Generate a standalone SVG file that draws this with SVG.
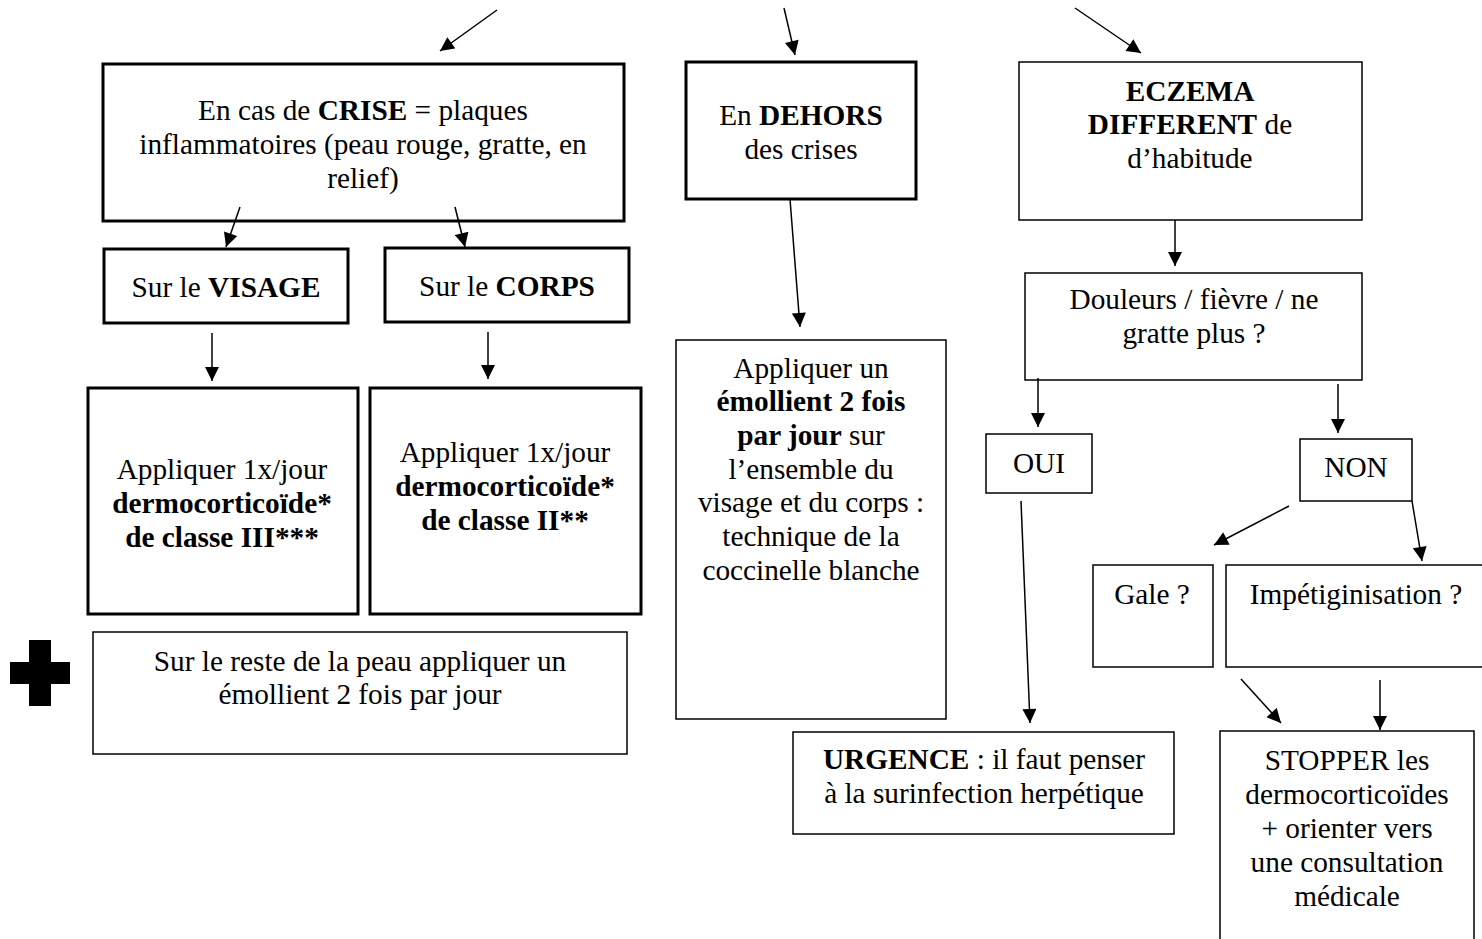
<svg xmlns="http://www.w3.org/2000/svg" width="1482" height="939" viewBox="0 0 1482 939">
<style>
text{font-family:"Liberation Serif","Times New Roman",serif;font-size:29.3px;fill:#000;text-anchor:middle}
.b{font-weight:bold}
.thick{fill:#fff;stroke:#000;stroke-width:3}
.thin{fill:#fff;stroke:#000;stroke-width:1.5}
.c line{stroke:#000;stroke-width:1.5;marker-end:url(#ah)}
</style>
<defs>
<marker id="ah" viewBox="0 0 10 10" refX="10" refY="5" markerWidth="15" markerHeight="14" markerUnits="userSpaceOnUse" orient="auto">
<path d="M0,0 L10,5 L0,10 z" fill="#000"/>
</marker>
</defs>
<rect width="1482" height="939" fill="#fff"/>
<g id="crise"><rect class="thick" x="103" y="64" width="521" height="157"/>
<text x="363" y="120">En cas de <tspan class="b">CRISE</tspan> = plaques</text>
<text x="363" y="154">inflammatoires (peau rouge, gratte, en</text>
<text x="363" y="188">relief)</text></g>
<g id="dehors"><rect class="thick" x="686" y="62" width="230" height="137"/>
<text x="801" y="125">En <tspan class="b">DEHORS</tspan></text>
<text x="801" y="159">des crises</text></g>
<g id="eczema"><rect class="thin" x="1019" y="62" width="343" height="158"/>
<text x="1190" y="101" class="b">ECZEMA</text>
<text x="1190" y="134"><tspan class="b">DIFFERENT</tspan> de</text>
<text x="1190" y="168">d’habitude</text></g>
<g id="visage"><rect class="thick" x="104" y="249" width="244" height="74"/>
<text x="226" y="297">Sur le <tspan class="b">VISAGE</tspan></text></g>
<g id="corps"><rect class="thick" x="385" y="248" width="244" height="74"/>
<text x="507" y="296">Sur le <tspan class="b">CORPS</tspan></text></g>
<g id="classe3"><rect class="thick" x="88" y="388" width="270" height="226"/>
<text x="222" y="479">Appliquer 1x/jour</text>
<text x="222" y="513" class="b">dermocorticoïde*</text>
<text x="222" y="547" class="b">de classe III***</text></g>
<g id="classe2"><rect class="thick" x="370" y="388" width="271" height="226"/>
<text x="505" y="462">Appliquer 1x/jour</text>
<text x="505" y="496" class="b">dermocorticoïde*</text>
<text x="505" y="530" class="b">de classe II**</text></g>
<g id="plus"><path d="M29,640 H51 V662 H70 V684 H51 V706 H29 V684 H10 V662 H29 Z" fill="#000"/></g>
<g id="reste"><rect class="thin" x="93" y="632" width="534" height="122"/>
<text x="360" y="671">Sur le reste de la peau appliquer un</text>
<text x="360" y="704">émollient 2 fois par jour</text></g>
<g id="emollient"><rect class="thin" x="676" y="340" width="270" height="379"/>
<text x="811" y="378">Appliquer un</text>
<text x="811" y="411" class="b">émollient 2 fois</text>
<text x="811" y="445"><tspan class="b">par jour</tspan> sur</text>
<text x="811" y="479">l’ensemble du</text>
<text x="811" y="512">visage et du corps :</text>
<text x="811" y="546">technique de la</text>
<text x="811" y="580">coccinelle blanche</text></g>
<g id="douleurs"><rect class="thin" x="1025" y="273" width="337" height="107"/>
<text x="1194" y="309">Douleurs / fièvre / ne</text>
<text x="1194" y="343">gratte plus ?</text></g>
<g id="oui"><rect class="thin" x="986" y="434" width="106" height="59"/>
<text x="1039" y="473">OUI</text></g>
<g id="non"><rect class="thin" x="1300" y="439" width="112" height="62"/>
<text x="1356" y="477">NON</text></g>
<g id="gale"><rect class="thin" x="1093" y="565" width="120" height="102"/>
<text x="1152" y="604">Gale ?</text></g>
<g id="impetigo"><rect class="thin" x="1226" y="565" width="260" height="102"/>
<text x="1356" y="604">Impétiginisation ?</text></g>
<g id="urgence"><rect class="thin" x="793" y="732" width="381" height="102"/>
<text x="984" y="769"><tspan class="b">URGENCE</tspan> : il faut penser</text>
<text x="984" y="803">à la surinfection herpétique</text></g>
<g id="stopper"><rect class="thin" x="1220" y="731" width="254" height="215"/>
<text x="1347" y="770">STOPPER les</text>
<text x="1347" y="804">dermocorticoïdes</text>
<text x="1347" y="838">+ orienter vers</text>
<text x="1347" y="872">une consultation</text>
<text x="1347" y="906">médicale</text></g>
<g id="connectors" class="c">
<line x1="497" y1="10" x2="440" y2="51"/>
<line x1="784" y1="8" x2="795" y2="55"/>
<line x1="1075" y1="8" x2="1141" y2="53"/>
<line x1="240" y1="207" x2="226" y2="247"/>
<line x1="455" y1="207" x2="465" y2="247"/>
<line x1="212" y1="333" x2="212" y2="381"/>
<line x1="488" y1="332" x2="488" y2="379"/>
<line x1="790" y1="199" x2="800" y2="327"/>
<line x1="1175" y1="220" x2="1175" y2="266"/>
<line x1="1038" y1="378" x2="1038" y2="427"/>
<line x1="1338" y1="384" x2="1338" y2="433"/>
<line x1="1289" y1="506" x2="1214" y2="545"/>
<line x1="1412" y1="501" x2="1422" y2="561"/>
<line x1="1021" y1="501" x2="1030" y2="723"/>
<line x1="1241" y1="679" x2="1281" y2="723"/>
<line x1="1380" y1="680" x2="1380" y2="730"/>
</g>
</svg>
